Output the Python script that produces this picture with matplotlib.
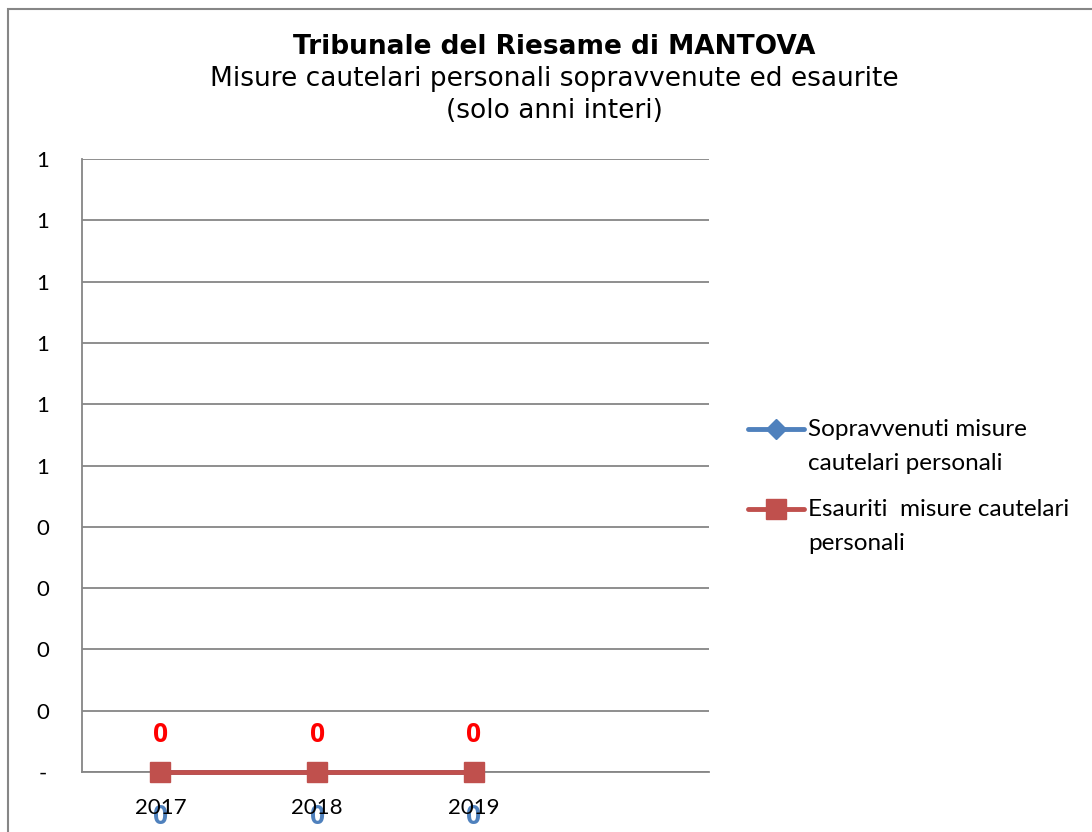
import numpy as np
import matplotlib.pyplot as plt
from matplotlib.patches import Rectangle
from matplotlib.lines import Line2D

# -------------------------------- data
years = ['2017', '2018', '2019']
sopravvenuti = [0, 0, 0]
esauriti = [0, 0, 0]
ytick_vals = [0, 0.1, 0.2, 0.3, 0.4, 0.5, 0.6, 0.7, 0.8, 0.9, 1.0]
ytick_labels = ['-', '0', '0', '0', '0', '1', '1', '1', '1', '1', '1']
series_names = ['Sopravvenuti misure\ncautelari personali', 'Esauriti  misure cautelari\npersonali']

blue = '#4f81bd'
red = '#c0504d'
grey = '#868686'
lab_font = ['Lato', 'DejaVu Sans']
bold_font = ['Open Sans', 'DejaVu Sans']

fig = plt.figure(figsize=(10.92, 8.32), dpi=100)
W, H = 1092, 832

# outer chart border (cut at right/bottom like the source)
fig.patches.append(Rectangle((8/W, -0.1), 1.2, (832-8.5)/H + 0.1, transform=fig.transFigure,
                             fill=False, edgecolor=grey, lw=1.5))

ax = fig.add_axes([82/W, 1-772/H, (709-82)/W, (772-159)/H])
x = np.arange(len(years))

ax.plot(x, sopravvenuti, color=blue, lw=3.5, marker='D', ms=10, zorder=3, clip_on=False)
ax.plot(x, esauriti, color=red, lw=3.5, marker='s', ms=14, zorder=4, clip_on=False)

for xi, v in zip(x, esauriti):
    ax.annotate(str(v), (xi, v), xytext=(0, 37), textcoords='offset pixels',
                ha='center', va='center', color='red', fontweight='bold',
                fontsize=19, family=bold_font)
for xi, v in zip(x, sopravvenuti):
    ax.annotate(str(v), (xi, v), xytext=(0, -44), textcoords='offset pixels',
                ha='center', va='center', color=blue, fontweight='bold',
                fontsize=19, family=bold_font, zorder=0.2)

ax.set_xlim(-0.5, 3.5)
ax.set_ylim(0, 1)
ax.set_yticks(ytick_vals)
ax.set_yticklabels(ytick_labels, family=lab_font, fontsize=16)
ax.set_xticks(x)
ax.set_xticklabels(years, family=lab_font, fontsize=16)
ax.tick_params(axis='y', length=0, pad=28)
ax.tick_params(axis='x', length=0, pad=19)
for lab in ax.get_yticklabels():
    lab.set_horizontalalignment('center')
ax.grid(axis='y', color=grey, lw=1.3)
ax.set_axisbelow(True)
for s in ['top', 'right']:
    ax.spines[s].set_visible(False)
for s in ['left', 'bottom']:
    ax.spines[s].set_color(grey)
    ax.spines[s].set_linewidth(1.3)

# titles
fig.text(554/W, 1-47/H, 'Tribunale del Riesame di MANTOVA', ha='center', va='center',
         fontsize=19, fontweight='bold', family='DejaVu Sans')
fig.text(554/W, 1-79/H, 'Misure cautelari personali sopravvenute ed esaurite', ha='center',
         va='center', fontsize=19, family='DejaVu Sans')
fig.text(554/W, 1-111/H, '(solo anni interi)', ha='center', va='center',
         fontsize=19, family='DejaVu Sans')

# legend, Excel style: key aligned with first line of each label
leg_y = [429, 509]
styles = [dict(color=blue, marker='D', ms=10), dict(color=red, marker='s', ms=14)]
for yy, name, st in zip(leg_y, series_names, styles):
    fig.add_artist(Line2D([748/W, 776/W, 804/W], [1-yy/H]*3, lw=3.5, markevery=[1],
                          solid_capstyle='round', **st))
    for k, line in enumerate(name.split('\n')):
        fig.text(808/W, 1-(yy + 34*k)/H, line, ha='left', va='center',
                 fontsize=17.5, family=lab_font)

fig.savefig('out.png', dpi=100)
